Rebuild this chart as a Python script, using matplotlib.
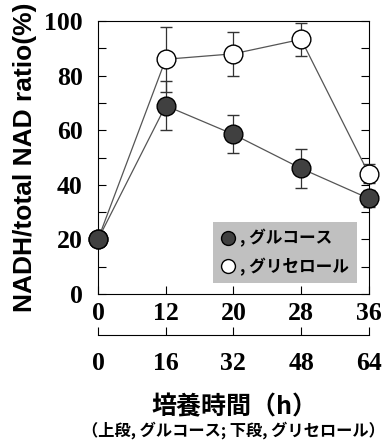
import matplotlib
matplotlib.use("Agg")
import matplotlib.pyplot as plt
from matplotlib.lines import Line2D
from matplotlib.patches import Rectangle

# data
top_labels = ["0", "12", "20", "28", "36"]      # glucose culture time (h)
bottom_labels = ["0", "16", "32", "48", "64"]   # glycerol culture time (h)
glucose = [20, 69, 58.5, 46, 35]
glucose_err = [0, 9, 7, 7, 3]
glycerol = [20, 86, 88, 93.3, 44]
glycerol_err = [0, 12, 8, 6, 3.5]

SERIF = ["Liberation Serif", "DejaVu Serif"]
SANS = ["Liberation Sans", "Noto Sans CJK JP", "DejaVu Sans"]
CJK = ["Noto Sans CJK JP", "DejaVu Sans"]

fig = plt.figure(figsize=(3.85, 4.48), dpi=100)
ax = fig.add_axes([0.2545, 0.3437, 0.7035, 0.6093])
x = list(range(len(top_labels)))

ax.errorbar(x, glycerol, yerr=glycerol_err, color="#555555", lw=0.9,
            ecolor="#333333", elinewidth=0.9, capsize=4, capthick=0.9,
            marker="o", ms=13.5, mfc="white", mec="black", mew=1.0,
            clip_on=False, zorder=3)
ax.errorbar(x, glucose, yerr=glucose_err, color="#555555", lw=0.9,
            ecolor="#333333", elinewidth=0.9, capsize=4, capthick=0.9,
            marker="o", ms=13.5, mfc="#404040", mec="black", mew=1.0,
            clip_on=False, zorder=4)

ax.set_xlim(0, 4)
ax.set_ylim(0, 100)
ax.set_yticks(range(0, 101, 20))
ax.set_yticks(range(0, 101, 10), minor=True)
ax.set_yticklabels([str(v) for v in range(0, 101, 20)], family=SERIF,
                   fontweight="bold", fontsize=18.5)
ax.tick_params(axis="y", which="both", direction="in", length=6, width=0.8,
               right=True, pad=11)
ax.set_xticks(x)
ax.set_xticklabels(top_labels, family=SERIF, fontweight="bold", fontsize=18.5)
ax.tick_params(axis="x", direction="in", length=6, width=0.8, pad=6)
for sp in ax.spines.values():
    sp.set_linewidth(0.8)

# second row of time labels (glycerol)
sec = ax.secondary_xaxis(-0.15)
sec.set_xticks(x)
sec.set_xticklabels(bottom_labels, family=SERIF, fontweight="bold", fontsize=18.5)
sec.tick_params(direction="in", length=6, width=0.8, pad=12)
sec.spines["bottom"].set_linewidth(0.8)

ax.set_ylabel("NADH/total NAD ratio(%)", family=SANS, fontweight="bold",
              fontsize=19, labelpad=5)
fig.text(0.608, 0.092, "培養時間（h）", family=CJK, fontweight="bold",
         fontsize=18, ha="center", va="center")
fig.text(0.606, 0.040, "（上段, グルコース; 下段, グリセロール）", family=CJK,
         fontweight="bold", fontsize=11.7, ha="center", va="center")

# legend on a grey box
ax.add_patch(Rectangle((0.424, 0.04), 0.532, 0.224, transform=ax.transAxes,
                       facecolor="#c0c0c0", edgecolor="none", zorder=2))
handles = [
    Line2D([], [], ls="none", marker="o", ms=10, mfc="#404040", mec="black"),
    Line2D([], [], ls="none", marker="o", ms=10, mfc="white", mec="black"),
]
leg = ax.legend(handles, [", グルコース", ", グリセロール"], loc="center",
                bbox_to_anchor=(0.424, 0.04, 0.532, 0.224), frameon=False,
                handlelength=0.8, handletextpad=0.3, labelspacing=0.6,
                prop={"family": CJK, "weight": "bold", "size": 12})
leg.set_zorder(5)

fig.savefig("out.png", dpi=100)
